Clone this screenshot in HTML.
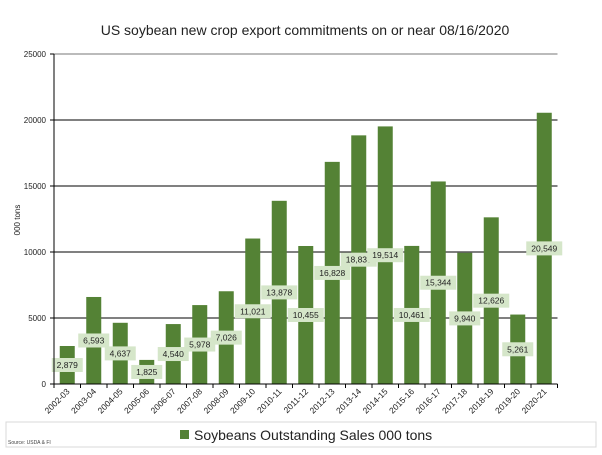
<!DOCTYPE html>
<html><head><meta charset="utf-8"><style>
body{margin:0;background:#fff;font-family:"Liberation Sans",sans-serif;}
svg text{font-family:"Liberation Sans",sans-serif;}
</style></head><body>
<svg width="602" height="450" viewBox="0 0 602 450">
<text x="305" y="35" text-anchor="middle" font-size="14" fill="#222">US soybean new crop export commitments on or near 08/16/2020</text>
<text transform="translate(20,220) rotate(-90)" text-anchor="middle" font-size="8" fill="#222">000 tons</text>
<g id="grid"></g><g id="bars"></g><g id="labels"></g><g id="axes"></g>
<rect x="6" y="422" width="590" height="25" fill="none" stroke="#d8d8d8"/>
<rect x="180" y="430" width="9" height="9" fill="#548235"/>
<text x="194" y="440" font-size="14" fill="#222">Soybeans Outstanding Sales 000 tons</text>
<text x="8" y="444" font-size="5" fill="#444">Source: USDA &amp; FI</text>
</svg>
<script>
const categories=["2002-03","2003-04","2004-05","2005-06","2006-07","2007-08","2008-09","2009-10","2010-11","2011-12","2012-13","2013-14","2014-15","2015-16","2016-17","2017-18","2018-19","2019-20","2020-21"];
const values=[2879,6593,4637,1825,4540,5978,7026,11021,13878,10455,16828,18837,19514,10461,15344,9940,12626,5261,20549];
const yTicks=[0,5000,10000,15000,20000,25000];
const NS="http://www.w3.org/2000/svg";
const x0=54,x1=557.5,y0=384,yTop=54,yMax=25000;
const bw=(x1-x0)/categories.length;
const y=v=>y0-(v/yMax)*(y0-yTop);
const xc=i=>x0+bw*(i+0.5);
function mk(t,a,p){const e=document.createElementNS(NS,t);for(const k in a)e.setAttribute(k,a[k]);p.appendChild(e);return e;}
const grid=document.getElementById('grid'),bars=document.getElementById('bars'),labels=document.getElementById('labels'),axes=document.getElementById('axes');
yTicks.forEach(t=>{
 if(t>0){const g=mk('line',{x1:x0,x2:x1,y1:y(t),y2:y(t),stroke:t==25000?'#777':'#000','stroke-width':1},grid);
 
 }
 const tk=mk('line',{x1:x0-4,x2:x0,y1:y(t),y2:y(t),stroke:'#000'},axes);
 
 
 const tl=mk('text',{x:x0-8,y:y(t)+3,'text-anchor':'end','font-size':8,fill:'#222'},axes);
 tl.textContent=t;
 
 
});
values.forEach((v,i)=>{
 const r=mk('rect',{x:xc(i)-7.5,y:y(v),width:15,height:y0-y(v),fill:'#548235'},bars);
 
 
 const s=v.toLocaleString('en-US');
 const w=s.length*5+6, cy=(y(v)+y0)/2;
 const b=mk('rect',{x:xc(i)-w/2,y:cy-7,width:w,height:14,fill:'#d5e6c9'},labels);
 
 
 const t=mk('text',{x:xc(i),y:cy+3,'text-anchor':'middle','font-size':8.5,fill:'#222'},labels);
 t.textContent=s;
 
 
 const tk=mk('line',{x1:x0+bw*(i+1),x2:x0+bw*(i+1),y1:y0,y2:y0+4,stroke:'#000'},axes);
 
 
 const xl=mk('text',{transform:`translate(${xc(i)+3},${y0+8}) rotate(-45)`,'text-anchor':'end','font-size':8.5,fill:'#222'},axes);
 xl.textContent=categories[i];
 
 
});
const ya=mk('line',{x1:x0,x2:x0,y1:yTop,y2:y0,stroke:'#000'},axes);


const xa=mk('line',{x1:x0-4,x2:x1,y1:y0,y2:y0,stroke:'#000'},axes);


const t0=mk('line',{x1:x0,x2:x0,y1:y0,y2:y0+4,stroke:'#000'},axes);


</script>
</body></html>
